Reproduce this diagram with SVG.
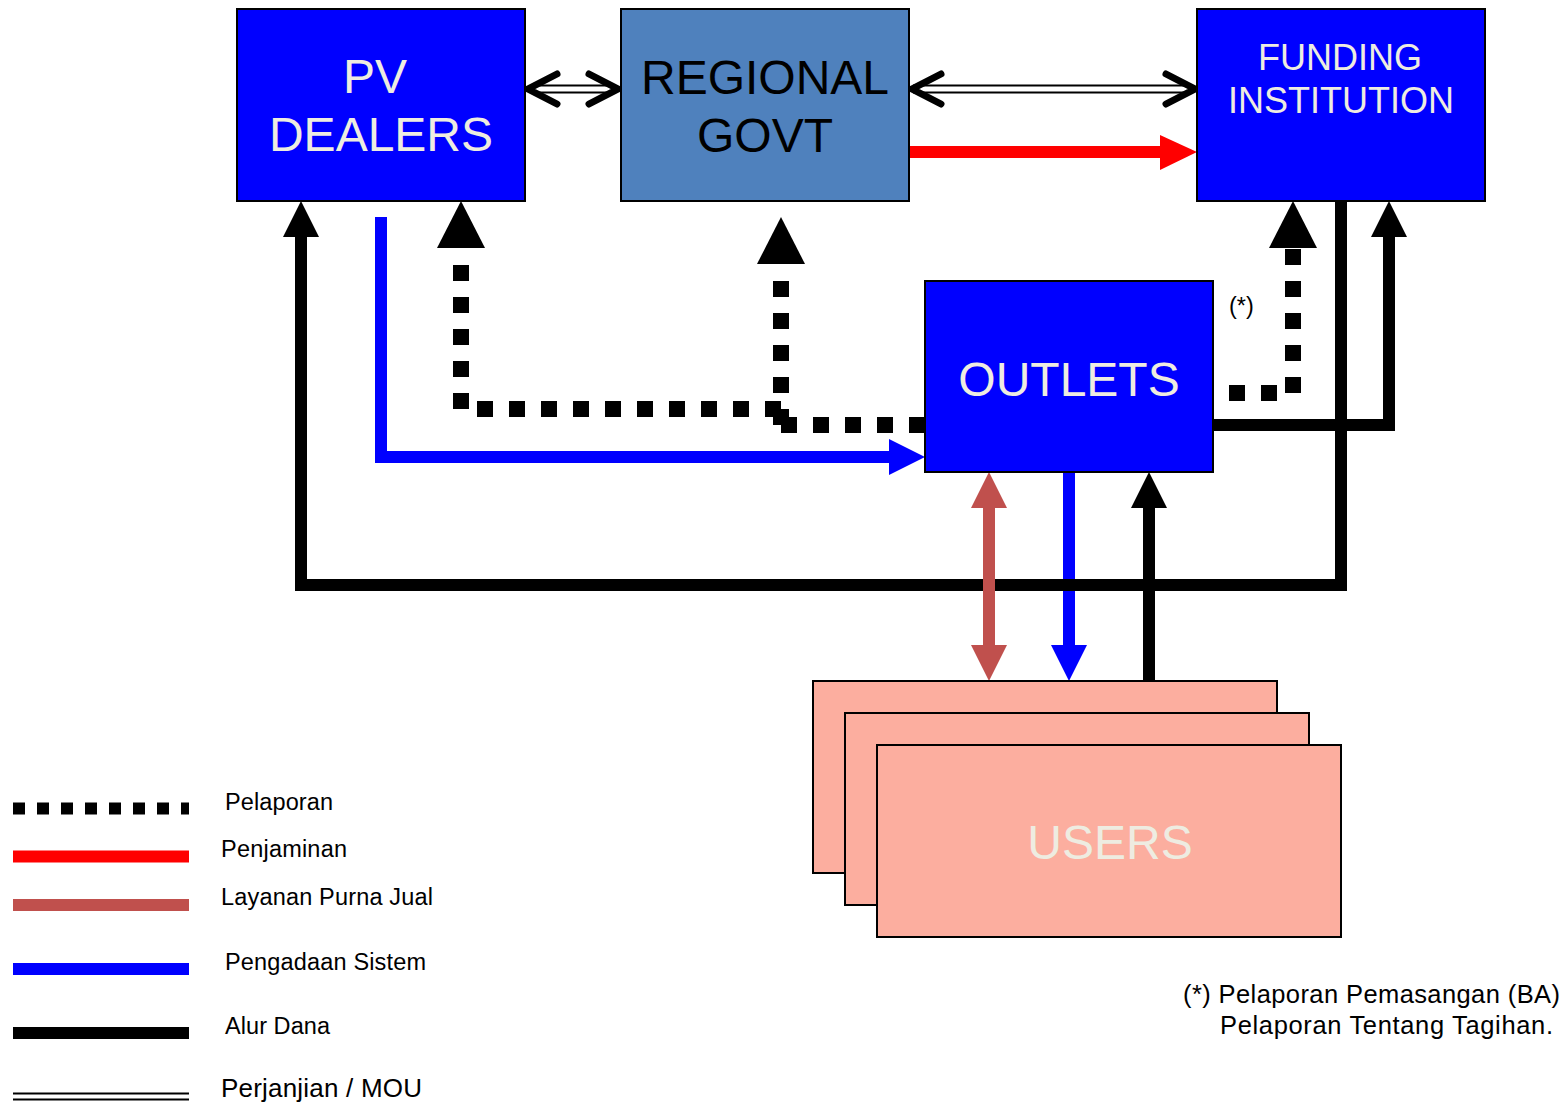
<svg xmlns="http://www.w3.org/2000/svg" width="1566" height="1102" viewBox="0 0 1566 1102">
<style>
.box{stroke:#000;stroke-width:2}
.blue{fill:#0000FF}
.steel{fill:#4F81BD}
.user{fill:#FCAE9F}
.lbl{font-family:"Liberation Sans",Arial,sans-serif;text-anchor:middle}
.wt{fill:#EEECE1}
.leg{font-family:"Liberation Sans",Arial,sans-serif;font-size:23.5px;fill:#000}
.foot{font-family:"Liberation Sans",Arial,sans-serif;font-size:25.5px;fill:#000}
.dot{fill:none;stroke:#000;stroke-width:16;stroke-dasharray:16 16}
.fund{fill:none;stroke:#000;stroke-width:12;stroke-linejoin:miter}
.chev{fill:none;stroke:#000;stroke-width:7;stroke-linecap:round;stroke-linejoin:miter}
</style>
<rect width="1566" height="1102" fill="#fff"/>

<g id="connectors">
  <!-- Perjanjian / MOU double lines -->
  <line x1="530" y1="89" x2="616" y2="89" stroke="#000" stroke-width="9"/>
  <line x1="530" y1="89" x2="616" y2="89" stroke="#fff" stroke-width="5"/>
  <polyline class="chev" points="557,74 528,89 557,104"/>
  <polyline class="chev" points="589,74 618,89 589,104"/>
  <line x1="913" y1="89" x2="1193" y2="89" stroke="#000" stroke-width="9"/>
  <line x1="913" y1="89" x2="1193" y2="89" stroke="#fff" stroke-width="5"/>
  <polyline class="chev" points="941,74 912,89 941,104"/>
  <polyline class="chev" points="1166,74 1195,89 1166,104"/>

  <!-- Penjaminan red -->
  <line x1="910" y1="152" x2="1162" y2="152" stroke="#FF0000" stroke-width="12"/>
  <polygon points="1160,135 1197,152 1160,170" fill="#FF0000"/>

  <!-- Pengadaan Sistem blue: PV -> Outlets -->
  <path d="M381,217 V457 H891" fill="none" stroke="#0000FF" stroke-width="12"/>
  <polygon points="889,439 925,457 889,475" fill="#0000FF"/>

  <!-- Pengadaan Sistem blue: Outlets -> Users -->
  <line x1="1069" y1="473" x2="1069" y2="647" stroke="#0000FF" stroke-width="12"/>
  <polygon points="1051,645 1069,681 1087,645" fill="#0000FF"/>

  <!-- Alur Dana black -->
  <path class="fund" d="M1341,201 V585 H301 V235"/>
  <polygon points="283,237 301,201 319,237" fill="#000"/>
  <path class="fund" d="M1213,425 H1389 V235"/>
  <polygon points="1371,237 1389,201 1407,237" fill="#000"/>
  <line x1="1149" y1="681" x2="1149" y2="506" stroke="#000" stroke-width="12"/>
  <polygon points="1131,508 1149,472 1167,508" fill="#000"/>

  <!-- Layanan Purna Jual -->
  <line x1="989" y1="506" x2="989" y2="647" stroke="#C0504D" stroke-width="12"/>
  <polygon points="971,508 989,472 1007,508" fill="#C0504D"/>
  <polygon points="971,645 989,681 1007,645" fill="#C0504D"/>

  <!-- Pelaporan dotted -->
  <path class="dot" d="M925,425 H781"/>
  <rect x="773" y="409" width="16" height="16" fill="#000"/>
  <path class="dot" d="M781,409 H461 V265"/>
  <polygon points="437,248 461,201 485,248" fill="#000"/>
  <path class="dot" d="M781,393 V281"/>
  <polygon points="757,264 781,217 805,264" fill="#000"/>
  <path class="dot" d="M1293,249 V393 H1229"/>
  <polygon points="1269,248 1293,201 1317,248" fill="#000"/>
</g>

<g id="pv-dealers">
  <rect class="box blue" x="237" y="9" width="288" height="192"/>
  <text class="lbl wt" x="375" y="93" font-size="48">PV</text>
  <text class="lbl wt" x="381" y="151" font-size="48">DEALERS</text>
</g>

<g id="regional-govt">
  <rect class="box steel" x="621" y="9" width="288" height="192"/>
  <text class="lbl" x="765" y="94" font-size="48" fill="#000">REGIONAL</text>
  <text class="lbl" x="765" y="152" font-size="48" fill="#000">GOVT</text>
</g>

<g id="funding-institution">
  <rect class="box blue" x="1197" y="9" width="288" height="192"/>
  <text class="lbl wt" x="1340" y="70" font-size="36">FUNDING</text>
  <text class="lbl wt" x="1341" y="113" font-size="36">INSTITUTION</text>
</g>

<g id="outlets">
  <rect class="box blue" x="925" y="281" width="288" height="191"/>
  <text class="lbl wt" x="1069" y="396" font-size="48">OUTLETS</text>
</g>

<g id="users">
  <rect class="box user" x="813" y="681" width="464" height="192"/>
  <rect class="box user" x="845" y="713" width="464" height="192"/>
  <rect class="box user" x="877" y="745" width="464" height="192"/>
  <text class="lbl wt" x="1110" y="859" font-size="48">USERS</text>
</g>

<g id="note-star">
  <text class="leg" x="1229" y="314">(*)</text>
</g>

<g id="legend">
  <line x1="13" y1="808.5" x2="189" y2="808.5" stroke="#000" stroke-width="12" stroke-dasharray="12 12"/>
  <line x1="13" y1="856.5" x2="189" y2="856.5" stroke="#FF0000" stroke-width="12"/>
  <line x1="13" y1="905" x2="189" y2="905" stroke="#C0504D" stroke-width="12"/>
  <line x1="13" y1="969" x2="189" y2="969" stroke="#0000FF" stroke-width="12"/>
  <line x1="13" y1="1033" x2="189" y2="1033" stroke="#000" stroke-width="12"/>
  <line x1="13" y1="1093.5" x2="189" y2="1093.5" stroke="#000" stroke-width="2"/>
  <line x1="13" y1="1099.5" x2="189" y2="1099.5" stroke="#000" stroke-width="2"/>
  <text class="leg" x="225" y="810" textLength="108" lengthAdjust="spacing">Pelaporan</text>
  <text class="leg" x="221" y="857" textLength="126" lengthAdjust="spacing">Penjaminan</text>
  <text class="leg" x="221" y="905" textLength="212" lengthAdjust="spacing">Layanan Purna Jual</text>
  <text class="leg" x="225" y="970" textLength="201" lengthAdjust="spacing">Pengadaan Sistem</text>
  <text class="leg" x="225" y="1034" textLength="105" lengthAdjust="spacing">Alur Dana</text>
  <text class="leg" x="221" y="1097" style="font-size:26px" textLength="201" lengthAdjust="spacing">Perjanjian / MOU</text>
</g>

<g id="footnote">
  <text class="foot" x="1183" y="1003" textLength="377" lengthAdjust="spacing">(*) Pelaporan Pemasangan (BA)</text>
  <text class="foot" x="1220" y="1034" textLength="333" lengthAdjust="spacing">Pelaporan Tentang Tagihan.</text>
</g>
</svg>
